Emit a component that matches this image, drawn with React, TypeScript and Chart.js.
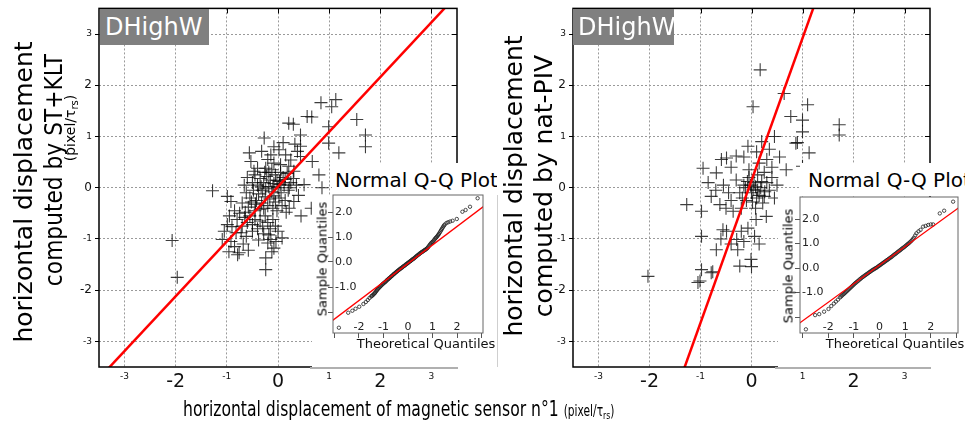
import React, { useEffect, useRef } from 'react';
import { Chart, registerables } from 'chart.js';
Chart.register(...registerables);

const FONT = '"DejaVu Sans", "Liberation Sans", sans-serif';

// ---- tick values ----
const mainTicks = [-3, -2, -1, 0, 1, 2, 3];
const qqXTicks = [-3, -2, -1, 0, 1, 2, 3];
const qqYTicks = [-2, -1, 0, 1, 2];

// ---- main scatter data: [magnetic sensor, computed] ----
const stKltPoints: number[][] = [
  [-1.28, -0.06], [-0.56, 0.68], [-0.27, 0.97], [0.21, 1.26], [0.30, 1.24], [0.57, 1.39], [0.66, 1.38],
  [0.84, 1.66], [1.05, 1.58], [1.13, 1.72], [1.54, 1.33], [1.71, 1.03], [1.71, 0.80], [1.19, 0.68],
  [0.99, 1.19], [0.44, 1.03], [0.44, 0.81], [0.99, 0.87], [0.67, 0.51], [0.86, 0.0], [-2.07, -1.03],
  [-1.97, -1.75], [-0.99, -0.17], [-0.92, -0.27], [-0.99, -0.72], [-1.05, -0.85], [-0.92, -1.05],
  [-1.09, -1.01], [-0.96, -1.25], [-0.76, -1.27], [-0.79, -1.31], [-0.24, -1.37], [-0.24, -1.60],
  [-0.14, -1.01], [0.08, -0.98], [-0.08, -1.18], [0.31, -0.27], [-0.90, -0.76], [-0.72, -0.88],
  [-0.50, -0.85], [-0.18, -0.92], [-0.04, -1.05], [0.51, 0.06], [0.80, 0.25], [0.65, -0.40], [0.45, -0.55],
  [-0.32, 0.71], [-0.14, 0.64], [-0.08, 0.80], [0.02, 0.74], [0.15, 0.64], [0.25, 0.54], [0.38, 0.71],
  [0.44, 0.61], [-0.08, 0.48], [0.05, 0.45], [0.21, 0.42], [0.31, 0.32], [-0.24, 0.38], [-0.47, 0.32],
  [-0.53, 0.51], [0.10, 0.88], [-0.20, 0.55], [0.33, 0.85],
  [-0.60, 0.20], [-0.50, 0.10], [-0.45, 0.25], [-0.40, 0.05], [-0.35, 0.18], [-0.30, -0.05], [-0.28, 0.10],
  [-0.22, 0.22], [-0.18, 0.02], [-0.15, 0.15], [-0.12, -0.08], [-0.08, 0.08], [-0.05, 0.25], [0.00, 0.00],
  [0.03, 0.12], [0.06, -0.10], [0.10, 0.20], [0.12, 0.05], [0.18, 0.28], [0.20, -0.05], [0.25, 0.10],
  [0.30, 0.18], [0.36, 0.05], [0.40, -0.15], [-0.62, -0.10], [-0.55, -0.20], [-0.48, -0.05], [-0.42, -0.25],
  [-0.38, -0.12], [-0.32, -0.30], [-0.25, -0.18], [-0.20, -0.35], [-0.16, -0.22], [-0.10, -0.40],
  [-0.05, -0.28], [0.02, -0.20], [0.08, -0.35], [0.14, -0.25], [0.22, -0.40], [-0.66, 0.05], [-0.70, -0.30],
  [-0.58, -0.38], [-0.45, -0.45], [-0.35, -0.42], [-0.26, 0.30], [-0.12, 0.35], [0.05, 0.30], [-0.02, -0.45],
  [0.16, -0.48], [-0.40, 0.38],
  [-0.95, -0.55], [-0.85, -0.45], [-0.80, -0.62], [-0.75, -0.50], [-0.70, -0.75], [-0.65, -0.58],
  [-0.60, -0.68], [-0.55, -0.55], [-0.50, -0.72], [-0.45, -0.62], [-0.40, -0.80], [-0.35, -0.65],
  [-0.30, -0.75], [-0.25, -0.55], [-0.20, -0.68], [-0.15, -0.80], [-0.10, -0.62], [-0.05, -0.75],
  [0.00, -0.85], [-0.82, -0.88], [-0.62, -0.95], [-0.38, -1.02], [-0.28, -0.90], [-0.68, -1.10],
  [-0.85, -1.15], [-0.58, -1.22], [-0.20, -1.08], [-0.12, -1.25],
  [-0.33, 0.02], [-0.24, -0.02], [-0.10, 0.02], [0.04, 0.06], [-0.18, 0.30], [-0.02, 0.14], [0.14, 0.16],
  [-0.44, -0.32], [-0.28, -0.40], [-0.08, -0.16], [0.22, 0.00], [-0.52, -0.28], [-0.64, -0.48],
];

const natPivPoints: number[][] = [
  [0.17, 2.30], [0.03, 1.58], [0.64, 1.84], [0.77, 1.39], [1.10, 1.62], [1.00, 1.32], [0.45, 1.00],
  [0.87, 0.87], [1.13, 0.68], [1.00, 0.42], [0.68, 0.35], [1.72, 1.23], [1.72, 1.03], [1.00, 1.09],
  [0.90, 0.88],
  [-0.07, 0.81], [0.10, 0.70], [0.20, 0.90], [0.35, 0.75], [0.30, 0.55], [0.15, 0.48], [-0.15, 0.60],
  [-0.30, 0.62], [-0.49, 0.58], [-0.59, 0.55], [-0.95, 0.38], [-0.69, 0.29], [-0.40, 0.40], [0.55, 0.60],
  [0.40, 0.40], [0.25, 0.30], [-0.05, 0.35],
  [-1.27, -0.33], [-0.98, -0.46], [-0.79, -0.17], [-0.62, -0.33], [-0.85, 0.10], [-0.55, 0.05],
  [-0.45, -0.10], [-0.36, -0.46], [-0.30, 0.15], [-0.23, -0.10], [-0.15, 0.05], [-0.10, -0.25],
  [-0.05, 0.20], [0.00, -0.10], [0.03, -0.04], [0.05, 0.10], [0.10, -0.20], [0.12, 0.25], [0.18, 0.00],
  [0.22, -0.30], [0.25, -0.17], [0.30, 0.10], [0.35, -0.05], [0.40, 0.20], [-0.20, -0.40], [-0.12, 0.00],
  [0.08, -0.40], [0.15, -0.15], [-0.40, -0.25], [-0.50, -0.40], [0.29, -0.56], [0.09, -0.62],
  [-0.07, -0.79], [-0.20, -0.85], [-0.49, -0.85], [-0.56, -0.82], [0.45, -0.20], [0.50, 0.05],
  [-0.70, -0.05], [-0.18, -0.20], [0.02, -0.28], [0.12, -0.05], [0.20, 0.12], [-0.08, 0.12],
  [0.26, -0.08], [-0.02, 0.05], [0.08, 0.02],
  [-0.69, -1.21], [-0.98, -0.95], [-0.98, -1.60], [-1.01, -1.82], [-0.79, -1.66], [-0.27, -1.21],
  [-0.01, -1.40], [-0.23, -1.53], [0.06, -0.95], [-0.29, -1.01], [-0.76, -1.64], [-1.05, -1.85],
  [0.00, -1.54], [-2.03, -1.73], [-0.40, -1.10], [-0.15, -1.05], [0.15, -1.10], [-0.60, -1.00],
];

// regression lines (endpoints)
const stKltFit: number[][] = [[-3.75, -3.99], [3.75, 4.03]];
const natPivFit: number[][] = [[-1.4, -3.75], [1.35, 3.89]];

// ---- Normal Q-Q data: [theoretical, sample] ----
const qqStKlt: number[][] = [
  [-2.82, -2.63], [-2.44, -2.03], [-2.27, -1.95], [-2.14, -1.87], [-1.99, -1.79], [-1.82, -1.68],
  [-1.72, -1.60], [-1.64, -1.52], [-1.57, -1.44], [-1.50, -1.38], [-1.44, -1.33], [-1.38, -1.27],
  [-1.32, -1.20], [-1.26, -1.12], [-1.20, -1.05], [-1.14, -0.99], [-1.08, -0.93], [-1.02, -0.87],
  [-0.96, -0.82], [-0.90, -0.77], [-0.84, -0.71], [-0.78, -0.66], [-0.72, -0.61], [-0.66, -0.56],
  [-0.60, -0.50], [-0.54, -0.45], [-0.48, -0.40], [-0.42, -0.35], [-0.36, -0.31], [-0.30, -0.26],
  [-0.24, -0.22], [-0.18, -0.17], [-0.12, -0.13], [-0.06, -0.08], [0.00, -0.04], [0.06, 0.01],
  [0.12, 0.05], [0.18, 0.10], [0.24, 0.14], [0.30, 0.19], [0.36, 0.24], [0.42, 0.29], [0.48, 0.34],
  [0.54, 0.38], [0.60, 0.42], [0.66, 0.46], [0.72, 0.50], [0.78, 0.55], [0.84, 0.62], [0.90, 0.70],
  [0.96, 0.77], [1.02, 0.82], [1.08, 0.90], [1.14, 0.97], [1.20, 1.04], [1.26, 1.12], [1.32, 1.22],
  [1.38, 1.32], [1.44, 1.42], [1.50, 1.50], [1.57, 1.56], [1.64, 1.59], [1.72, 1.62], [1.82, 1.65],
  [1.99, 1.72], [2.22, 2.01], [2.35, 2.08], [2.53, 2.21], [2.84, 2.55],
  [-1.47, -1.35], [-1.41, -1.30], [-1.35, -1.24], [-1.29, -1.16], [-1.23, -1.08], [-1.17, -1.02],
  [-1.11, -0.96], [-1.05, -0.90], [-0.99, -0.85], [-0.93, -0.80], [-0.87, -0.74], [-0.81, -0.69],
  [-0.75, -0.64], [-0.69, -0.58], [-0.63, -0.53], [-0.57, -0.48], [-0.51, -0.43], [-0.45, -0.38],
  [-0.39, -0.33], [-0.33, -0.28], [-0.27, -0.24], [-0.21, -0.19], [-0.15, -0.15], [-0.09, -0.10],
  [-0.03, -0.06], [0.03, -0.01], [0.09, 0.03], [0.15, 0.08], [0.21, 0.12], [0.27, 0.17], [0.33, 0.22],
  [0.39, 0.27], [0.45, 0.31], [0.51, 0.36], [0.57, 0.40], [0.63, 0.44], [0.69, 0.48], [0.75, 0.52],
  [0.81, 0.58], [0.87, 0.66], [0.93, 0.74], [0.99, 0.80], [1.05, 0.86], [1.11, 0.94], [1.17, 1.00],
  [1.23, 1.08], [1.29, 1.17], [1.35, 1.27], [1.41, 1.37], [1.47, 1.46],
];
const qqStKltFit: number[][] = [[-3.2, -2.43], [3.2, 2.31]];

const qqNatPiv: number[][] = [
  [-2.87, -2.50], [-2.51, -1.92], [-2.35, -1.88], [-2.16, -1.78], [-1.99, -1.67], [-1.88, -1.55],
  [-1.78, -1.45], [-1.70, -1.37], [-1.62, -1.29], [-1.54, -1.20], [-1.46, -1.12], [-1.38, -1.05],
  [-1.30, -0.97], [-1.22, -0.89], [-1.14, -0.81], [-1.06, -0.73], [-0.98, -0.65], [-0.90, -0.58],
  [-0.82, -0.51], [-0.74, -0.44], [-0.66, -0.37], [-0.58, -0.31], [-0.50, -0.25], [-0.42, -0.19],
  [-0.34, -0.13], [-0.26, -0.07], [-0.18, -0.02], [-0.10, 0.03], [-0.02, 0.09], [0.06, 0.15],
  [0.14, 0.21], [0.22, 0.27], [0.30, 0.33], [0.38, 0.39], [0.46, 0.45], [0.54, 0.52], [0.62, 0.58],
  [0.70, 0.65], [0.78, 0.71], [0.86, 0.78], [0.94, 0.84], [1.02, 0.91], [1.10, 0.98], [1.18, 1.05],
  [1.26, 1.13], [1.34, 1.24], [1.44, 1.42], [1.52, 1.50], [1.60, 1.56], [1.70, 1.69], [1.80, 1.72],
  [1.90, 1.76], [2.00, 1.78], [2.09, 1.78], [2.35, 2.23], [2.52, 2.34], [2.87, 2.71],
  [-1.50, -1.16], [-1.42, -1.08], [-1.34, -1.01], [-1.26, -0.93], [-1.18, -0.85], [-1.10, -0.77],
  [-1.02, -0.69], [-0.94, -0.61], [-0.86, -0.54], [-0.78, -0.47], [-0.70, -0.40], [-0.62, -0.34],
  [-0.54, -0.28], [-0.46, -0.22], [-0.38, -0.16], [-0.30, -0.10], [-0.22, -0.05], [-0.14, 0.00],
  [-0.06, 0.06], [0.02, 0.12], [0.10, 0.18], [0.18, 0.24], [0.26, 0.30], [0.34, 0.36], [0.42, 0.42],
  [0.50, 0.48], [0.58, 0.55], [0.66, 0.61], [0.74, 0.68], [0.82, 0.74], [0.90, 0.81], [0.98, 0.87],
  [1.06, 0.94], [1.14, 1.01], [1.22, 1.09], [1.30, 1.18], [1.39, 1.33],
];
const qqNatPivFit: number[][] = [[-3.2, -2.31], [3.2, 2.55]];

const toXY = (arr: number[][]) => arr.map(([x, y]) => ({ x, y }));
const setTicks = (vals: number[]) => (s: any) => {
  s.ticks = vals.filter((v) => v >= s.min && v <= s.max).map((v) => ({ value: v }));
};

function framePlugin(color: string, width: number, inner: boolean, qqLabels: boolean) {
  return {
    id: 'frame',
    afterDraw(chart: any) {
      const { ctx, chartArea: a, scales } = chart;
      ctx.save();
      ctx.setLineDash([]);
      ctx.strokeStyle = color;
      ctx.lineWidth = width;
      ctx.strokeRect(a.left, a.top, a.right - a.left, a.bottom - a.top);
      if (inner) {
        ctx.lineWidth = 1;
        scales.x.ticks.forEach((t: any) => {
          const px = Math.round(scales.x.getPixelForValue(t.value)) + 0.5;
          ctx.beginPath(); ctx.moveTo(px, a.top); ctx.lineTo(px, a.top + 5); ctx.stroke();
        });
        scales.y.ticks.forEach((t: any) => {
          const py = Math.round(scales.y.getPixelForValue(t.value)) + 0.5;
          ctx.beginPath(); ctx.moveTo(a.right, py); ctx.lineTo(a.right - 5, py); ctx.stroke();
        });
      }
      if (qqLabels) {
        ctx.font = `11px ${FONT}`;
        ctx.fillStyle = '#222';
        ctx.textAlign = 'center';
        ctx.textBaseline = 'middle';
        scales.x.ticks.forEach((t: any) => {
          if (Math.abs(t.value) > 2) return;
          ctx.fillText(String(t.value), scales.x.getPixelForValue(t.value), a.bottom - 6);
        });
      }
      ctx.restore();
    },
  };
}

function MainPanel({ points, fit, left, axisW, padRight }: any) {
  const ref = useRef<HTMLCanvasElement>(null);
  useEffect(() => {
    const chart = new Chart(ref.current as HTMLCanvasElement, {
      type: 'scatter',
      data: {
        datasets: [
          {
            type: 'line', data: toXY(fit), borderColor: '#ff0000', borderWidth: 2.5,
            pointRadius: 0, fill: false, clip: 0,
          } as any,
          {
            data: toXY(points), pointStyle: 'cross', pointRadius: 6.5, borderWidth: 1.1,
            borderColor: 'rgba(0,0,0,0.76)', backgroundColor: 'rgba(0,0,0,0)',
          } as any,
        ],
      },
      options: {
        animation: false, responsive: false, events: [],
        layout: { padding: { top: 8, right: padRight, left: 0, bottom: 0 } },
        plugins: { legend: { display: false }, tooltip: { enabled: false } },
        scales: {
          x: {
            type: 'linear', min: -3.5, max: 3.5,
            afterBuildTicks: setTicks(mainTicks),
            afterFit: (s: any) => { s.height = 33; },
            ticks: {
              autoSkip: false, maxRotation: 0, padding: 4, color: '#111',
              font: (c: any) => ({ family: FONT, size: c.tick && c.tick.value % 2 === 0 ? 19 : 9 }),
            },
            grid: { color: '#9a9a9a', lineWidth: 1, drawTicks: false },
            border: { display: false, dash: [2, 2] },
          },
          y: {
            type: 'linear', min: -3.5, max: 3.5,
            afterBuildTicks: setTicks(mainTicks),
            afterFit: (s: any) => { s.width = axisW; },
            ticks: {
              autoSkip: false, padding: 3, color: '#111',
              font: (c: any) => ({ family: FONT, size: c.tick && c.tick.value % 2 === 0 ? 12 : 9 }),
            },
            grid: { color: '#9a9a9a', lineWidth: 1, drawTicks: true, tickLength: 4, tickColor: '#000' },
            border: { display: false, dash: [2, 2] },
          },
        },
      } as any,
      plugins: [framePlugin('#000', 1.5, true, false)],
    });
    return () => chart.destroy();
  }, []);
  return <canvas ref={ref} width={470} height={400}
    style={{ position: 'absolute', left, top: 0, width: 470, height: 400, display: 'block' }} />;
}

function QQPanel({ points, fit, xr, yr, axisW, padRight, width, areaH }: any) {
  const ref = useRef<HTMLCanvasElement>(null);
  const h = 12 + areaH + 18;
  useEffect(() => {
    const chart = new Chart(ref.current as HTMLCanvasElement, {
      type: 'scatter',
      data: {
        datasets: [
          {
            type: 'line', data: toXY(fit), borderColor: '#ff0000', borderWidth: 1.3,
            pointRadius: 0, fill: false, clip: 0,
          } as any,
          {
            data: toXY(points), pointStyle: 'circle', pointRadius: 1.7, borderWidth: 0.8,
            borderColor: '#222', backgroundColor: 'rgba(255,255,255,0)',
          } as any,
        ],
      },
      options: {
        animation: false, responsive: false, events: [],
        layout: { padding: { top: 12, right: padRight, left: 0, bottom: 0 } },
        plugins: { legend: { display: false }, tooltip: { enabled: false } },
        scales: {
          x: {
            type: 'linear', min: xr[0], max: xr[1],
            afterBuildTicks: setTicks(qqXTicks),
            afterFit: (s: any) => { s.height = 18; },
            ticks: {
              autoSkip: false, maxRotation: 0, padding: 0, color: 'rgba(0,0,0,0)',
              font: { family: FONT, size: 11 },
            },
            grid: { drawOnChartArea: false, drawTicks: true, tickLength: 5, tickColor: '#555' },
            border: { display: false },
          },
          y: {
            type: 'linear', min: yr[0], max: yr[1],
            afterBuildTicks: setTicks(qqYTicks),
            afterFit: (s: any) => { s.width = axisW; },
            ticks: {
              autoSkip: false, mirror: true, padding: 2, color: '#222',
              font: { family: FONT, size: 11 },
              callback: (v: any) => (v <= -2 ? '' : Number(v).toFixed(1)),
            },
            grid: { drawOnChartArea: false, drawTicks: true, tickLength: 5, tickColor: '#555' },
            border: { display: false },
          },
        },
      } as any,
      plugins: [framePlugin('#666', 1, false, true)],
    });
    return () => chart.destroy();
  }, []);
  return <canvas ref={ref} width={width} height={h}
    style={{ position: 'absolute', left: 0, top: -12, width, height: h, display: 'block' }} />;
}

function VText({ cx, cy, size, scale = 1, children }: any) {
  return (
    <div style={{
      position: 'absolute', left: cx, top: cy, whiteSpace: 'nowrap', fontFamily: FONT, fontSize: size,
      lineHeight: 1, color: '#000', transform: `translate(-50%,-50%) rotate(-90deg) scaleX(${scale})`,
    }}>{children}</div>
  );
}

function CText({ cx, cy, size, children }: any) {
  return (
    <div style={{
      position: 'absolute', left: cx, top: cy, whiteSpace: 'nowrap', fontFamily: FONT, fontSize: size,
      lineHeight: 1, color: '#111', transform: 'translate(-50%,-50%)',
    }}>{children}</div>
  );
}

const Sub = ({ children }: any) => (
  <span style={{ fontSize: '0.72em', position: 'relative', top: '0.3em' }}>{children}</span>
);

function Badge({ left, width }: any) {
  return (
    <div style={{
      position: 'absolute', left, top: 9, width, height: 36, background: '#808080', color: '#fff',
      fontFamily: FONT, fontSize: 24, lineHeight: '36px', paddingLeft: 5, boxSizing: 'border-box',
    }}>DHighW</div>
  );
}

function QQTitle({ left, width, textPad }: any) {
  return (
    <div style={{
      position: 'absolute', left, top: 163, width, height: 33, background: '#fff',
      fontFamily: FONT, fontSize: 20, lineHeight: 1, paddingTop: 7, paddingLeft: textPad, boxSizing: 'border-box',
      whiteSpace: 'nowrap', color: '#000', overflow: 'hidden',
    }}>Normal Q-Q Plot</div>
  );
}

export default function App() {
  return (
    <div style={{ position: 'absolute', left: 0, top: 0, width: 965, height: 429, overflow: 'hidden', background: '#fff' }}>
      <MainPanel points={stKltPoints} fit={stKltFit} left={0} axisW={99} padRight={13} />
      <MainPanel points={natPivPoints} fit={natPivFit} left={480} axisW={93} padRight={20} />

      <Badge left={100} width={109} />
      <Badge left={573} width={101} />

      {/* left inset */}
      <QQTitle left={332} width={165} textPad={3} />
      <div style={{ position: 'absolute', left: 312, top: 195, width: 185, height: 172, background: '#fff', borderRight: '1px solid #cfcfcf' }}>
        <QQPanel points={qqStKlt} fit={qqStKltFit} xr={[-3.06, 3.06]} yr={[-2.84, 2.68]} axisW={21} padRight={14} width={185} areaH={138} />
      </div>
      <div style={{ position: 'absolute', left: 310, top: 367, width: 148, height: 2, background: '#b0b0b0' }} />
      <VText cx={322} cy={259} size={13}>Sample Quantiles</VText>
      <CText cx={426} cy={343} size={13}>Theoretical Quantiles</CText>

      {/* right inset */}
      <QQTitle left={800} width={165} textPad={8} />
      <div style={{ position: 'absolute', left: 778, top: 197, width: 187, height: 170, background: '#fff' }}>
        <QQPanel points={qqNatPiv} fit={qqNatPivFit} xr={[-3.1, 3.06]} yr={[-2.65, 2.9]} axisW={22} padRight={7} width={187} areaH={136} />
      </div>
      <div style={{ position: 'absolute', left: 775, top: 367, width: 156, height: 2, background: '#b0b0b0' }} />
      <VText cx={788} cy={266} size={13}>Sample Quantiles</VText>
      <CText cx={895} cy={343} size={13}>Theoretical Quantiles</CText>

      {/* y-axis titles */}
      <VText cx={23} cy={192} size={25}>horizontal displacement</VText>
      <VText cx={53} cy={170} size={25} scale={0.87}>computed by ST+KLT</VText>
      <VText cx={70} cy={128} size={14}>(pixel/τ<Sub>rs</Sub>)</VText>
      <VText cx={513} cy={186} size={25}>horizontal displacement</VText>
      <VText cx={543} cy={186} size={25}>computed by nat-PIV</VText>

      {/* x-axis title */}
      <div style={{
        position: 'absolute', left: 183, top: 398, whiteSpace: 'nowrap', fontFamily: FONT, fontSize: 22,
        lineHeight: 1, color: '#000', transform: 'scaleX(0.71)', transformOrigin: '0 0',
      }}>
        horizontal displacement of magnetic sensor n°1 <span style={{ fontSize: 15 }}>(pixel/τ<Sub>rs</Sub>)</span>
      </div>
    </div>
  );
}
